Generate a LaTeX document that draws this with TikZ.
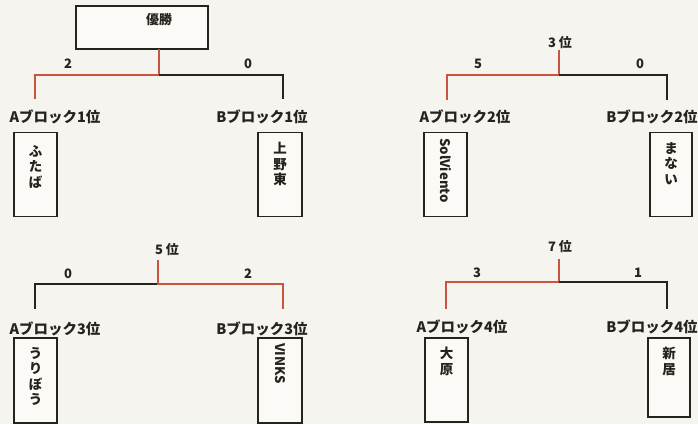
\documentclass[tikz,border=0pt]{standalone}
\usepackage{fontspec}
\setmainfont{Noto Sans CJK JP}
\definecolor{paper}{HTML}{F6F4EF}
\definecolor{boxfill}{HTML}{FBFAF7}
\definecolor{ink}{HTML}{26221E}
\definecolor{win}{HTML}{C8553F}
\tikzset{
  lose/.style={draw=ink, line width=2pt},
  winline/.style={draw=win, line width=2.2pt},
  teambox/.style={draw=ink, line width=1.8pt, fill=boxfill, rectangle, inner sep=0pt},
  vtext/.style={font=\fontsize{13.5}{15.5}\selectfont\bfseries, text=ink, align=center, inner sep=0pt, anchor=north},
  rottext/.style={font=\fontsize{13.2}{15}\selectfont\bfseries, text=ink, inner sep=0pt, rotate=-90, anchor=west},
  seed/.style={font=\fontsize{14.5}{16}\selectfont\bfseries, text=ink, inner sep=0pt},
  score/.style={font=\fontsize{13}{14}\selectfont\bfseries, text=ink, inner sep=0pt},
  rank/.style={font=\fontsize{13}{14}\selectfont\bfseries, text=ink, inner sep=0pt},
}
\begin{document}
\begin{tikzpicture}[x=1pt,y=-1pt]
\fill[paper] (0,0) rectangle (698,424);
\useasboundingbox (0,0) rectangle (698,424);

% ===== Final (優勝) =====
\node[teambox, minimum width=132pt, minimum height=43pt] (champ) at (142,27.5) {};
\node[rank] (champtext) at (159,20) {優勝};
\coordinate (s1) at (159,49);
\coordinate (j1) at (159,75);
\coordinate (l1t) at (35,75);
\coordinate (l1b) at (35,99);
\coordinate (r1t) at (283,75);
\coordinate (r1b) at (283,99);
\draw[winline] (s1) -- (j1) -- (l1t) -- (l1b);
\draw[lose] (j1) -- (r1t) -- (r1b);
\node[score] (sc1a) at (68,64) {2};
\node[score] (sc1b) at (248,64) {0};
\node[seed] (a1) at (55,117) {Aブロック1位};
\node[seed] (b1) at (262,117) {Bブロック1位};
\node[teambox, minimum width=43pt, minimum height=84pt] (ta1) at (35.5,174.5) {};
\node[vtext] (ta1t) at (35.5,145) {ふ\\た\\ば};
\node[teambox, minimum width=44pt, minimum height=84pt] (tb1) at (280,174.5) {};
\node[vtext] (tb1t) at (280,142) {上\\野\\東};

% ===== 3位 =====
\node[rank] (rk3) at (560,43) {3 位};
\coordinate (s2) at (559,50);
\coordinate (j2) at (559,75);
\coordinate (l2t) at (447,75);
\coordinate (l2b) at (447,100);
\coordinate (r2t) at (667,75);
\coordinate (r2b) at (667,100);
\draw[winline] (s2) -- (j2) -- (l2t) -- (l2b);
\draw[lose] (j2) -- (r2t) -- (r2b);
\node[score] (sc2a) at (478,64) {5};
\node[score] (sc2b) at (640,64) {0};
\node[seed] (a2) at (465,117) {Aブロック2位};
\node[seed] (b2) at (652,117) {Bブロック2位};
\node[teambox, minimum width=43pt, minimum height=84pt] (ta2) at (445.5,174.5) {};
\node[rottext] (ta2t) at (445.5,138) {SolViento};
\node[teambox, minimum width=42pt, minimum height=84pt] (tb2) at (671,174.5) {};
\node[vtext] (tb2t) at (671,142) {ま\\な\\い};

% ===== 5位 =====
\node[rank] (rk5) at (167,250) {5 位};
\coordinate (s3) at (158,260);
\coordinate (j3) at (158,284);
\coordinate (l3t) at (35,284);
\coordinate (l3b) at (35,309);
\coordinate (r3t) at (283,284);
\coordinate (r3b) at (283,309);
\draw[lose] (j3) -- (l3t) -- (l3b);
\draw[winline] (s3) -- (j3) -- (r3t) -- (r3b);
\node[score] (sc3a) at (68,274) {0};
\node[score] (sc3b) at (248,274) {2};
\node[seed] (a3) at (55,329) {Aブロック3位};
\node[seed] (b3) at (262,329) {Bブロック3位};
\node[teambox, minimum width=43pt, minimum height=85pt] (ta3) at (35.5,380.5) {};
\node[vtext] (ta3t) at (35.5,347) {う\\り\\ぼ\\う};
\node[teambox, minimum width=44pt, minimum height=85pt] (tb3) at (280,380.5) {};
\node[rottext] (tb3t) at (280,343) {VINKS};

% ===== 7位 =====
\node[rank] (rk7) at (560,247) {7 位};
\coordinate (s4) at (559,259);
\coordinate (j4) at (559,282);
\coordinate (l4t) at (446,282);
\coordinate (l4b) at (446,309);
\coordinate (r4t) at (667,282);
\coordinate (r4b) at (667,309);
\draw[winline] (s4) -- (j4) -- (l4t) -- (l4b);
\draw[lose] (j4) -- (r4t) -- (r4b);
\node[score] (sc4a) at (477,273) {3};
\node[score] (sc4b) at (638,273) {1};
\node[seed] (a4) at (462,327) {Aブロック4位};
\node[seed] (b4) at (652,327) {Bブロック4位};
\node[teambox, minimum width=43pt, minimum height=84pt] (ta4) at (446.5,380) {};
\node[vtext] (ta4t) at (446.5,347) {大\\原};
\node[teambox, minimum width=42pt, minimum height=79pt] (tb4) at (669,377.5) {};
\node[vtext] (tb4t) at (669,347) {新\\居};
\end{tikzpicture}
\end{document}
